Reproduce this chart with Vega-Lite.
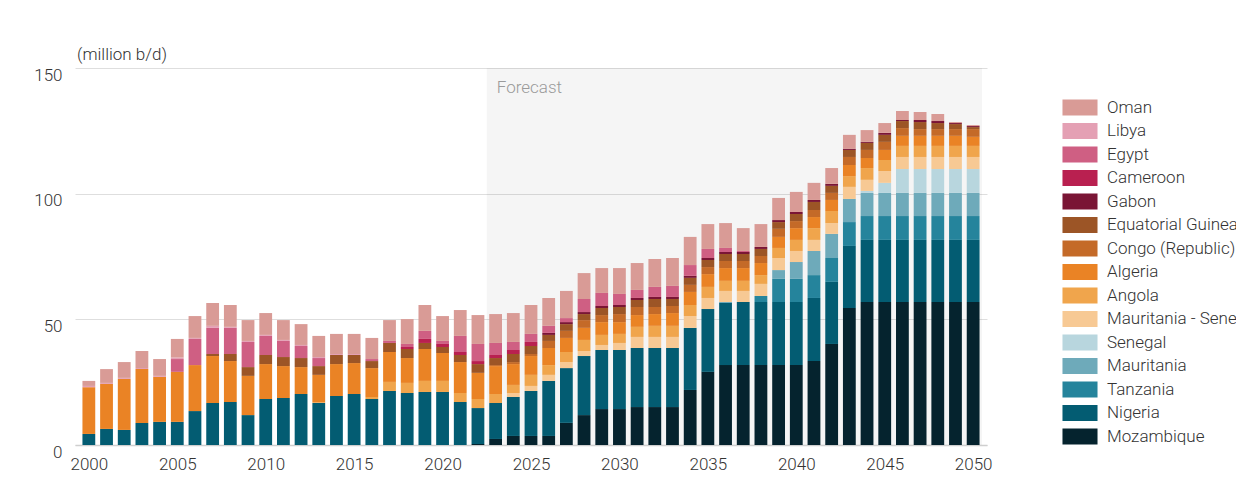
{
"$schema": "https://vega.github.io/schema/vega-lite/v6.json",
"width": 912, "height": 377,
"autosize": {"type": "none"},
"padding": {"left": 75, "top": 68, "right": 249, "bottom": 49},
"background": "white",
"config": {"font": "Roboto", "view": {"stroke": null},
  "axisX": {"grid": false, "domain": true, "domainColor": "#cfcfcf", "domainWidth": 1.5, "ticks": false, "labelFontSize": 17, "labelFontWeight": 300, "labelColor": "#333", "labelPadding": 11, "title": null},
  "axisY": {"grid": true, "gridColor": "#dedede", "domain": false, "ticks": false, "labelFontSize": 17, "labelFontWeight": 300, "labelColor": "#333", "labelPadding": 13, "labelOffset": 7, "title": null}
},
"title": {"text": "(million b/d)", "anchor": "start", "frame": "group", "fontSize": 17, "fontWeight": 300, "color": "#333", "offset": 2, "dx": 2},
"datasets": {
"order": [
{"country":"Oman","rank":1},{"country":"Libya","rank":2},{"country":"Egypt","rank":3},{"country":"Cameroon","rank":4},{"country":"Gabon","rank":5},{"country":"Equatorial Guinea","rank":6},{"country":"Congo (Republic)","rank":7},{"country":"Algeria","rank":8},{"country":"Angola","rank":9},{"country":"Mauritania - Senegal","rank":10},{"country":"Senegal","rank":11},{"country":"Mauritania","rank":12},{"country":"Tanzania","rank":13},{"country":"Nigeria","rank":14},{"country":"Mozambique","rank":15}
],
"supply": [
{"year":2000,"country":"Nigeria","value":4.4},{"year":2000,"country":"Algeria","value":18.6},{"year":2000,"country":"Libya","value":0.5},{"year":2000,"country":"Oman","value":2.0},
{"year":2001,"country":"Nigeria","value":6.4},{"year":2001,"country":"Algeria","value":17.9},{"year":2001,"country":"Libya","value":0.4},{"year":2001,"country":"Oman","value":5.5},
{"year":2002,"country":"Nigeria","value":6.0},{"year":2002,"country":"Algeria","value":20.3},{"year":2002,"country":"Libya","value":0.4},{"year":2002,"country":"Oman","value":6.3},
{"year":2003,"country":"Nigeria","value":8.8},{"year":2003,"country":"Algeria","value":21.4},{"year":2003,"country":"Libya","value":0.4},{"year":2003,"country":"Oman","value":6.8},
{"year":2004,"country":"Nigeria","value":9.2},{"year":2004,"country":"Algeria","value":17.9},{"year":2004,"country":"Libya","value":0.4},{"year":2004,"country":"Oman","value":6.7},
{"year":2005,"country":"Nigeria","value":9.2},{"year":2005,"country":"Algeria","value":19.9},{"year":2005,"country":"Egypt","value":5.1},{"year":2005,"country":"Libya","value":0.6},{"year":2005,"country":"Oman","value":7.4},
{"year":2006,"country":"Nigeria","value":13.5},{"year":2006,"country":"Algeria","value":18.3},{"year":2006,"country":"Egypt","value":10.4},{"year":2006,"country":"Libya","value":0.4},{"year":2006,"country":"Oman","value":8.7},
{"year":2007,"country":"Nigeria","value":16.7},{"year":2007,"country":"Algeria","value":18.7},{"year":2007,"country":"Equatorial Guinea","value":0.8},{"year":2007,"country":"Egypt","value":10.4},{"year":2007,"country":"Libya","value":0.8},{"year":2007,"country":"Oman","value":9.1},
{"year":2008,"country":"Nigeria","value":17.1},{"year":2008,"country":"Algeria","value":16.3},{"year":2008,"country":"Equatorial Guinea","value":2.8},{"year":2008,"country":"Egypt","value":10.4},{"year":2008,"country":"Libya","value":0.4},{"year":2008,"country":"Oman","value":8.7},
{"year":2009,"country":"Nigeria","value":11.9},{"year":2009,"country":"Algeria","value":15.6},{"year":2009,"country":"Equatorial Guinea","value":3.5},{"year":2009,"country":"Egypt","value":10.0},{"year":2009,"country":"Libya","value":0.4},{"year":2009,"country":"Oman","value":8.3},
{"year":2010,"country":"Nigeria","value":18.3},{"year":2010,"country":"Algeria","value":13.9},{"year":2010,"country":"Equatorial Guinea","value":3.6},{"year":2010,"country":"Egypt","value":7.6},{"year":2010,"country":"Libya","value":0.4},{"year":2010,"country":"Oman","value":8.7},
{"year":2011,"country":"Nigeria","value":18.7},{"year":2011,"country":"Algeria","value":12.7},{"year":2011,"country":"Equatorial Guinea","value":3.6},{"year":2011,"country":"Egypt","value":6.4},{"year":2011,"country":"Libya","value":0.4},{"year":2011,"country":"Oman","value":7.9},
{"year":2012,"country":"Nigeria","value":20.3},{"year":2012,"country":"Algeria","value":10.7},{"year":2012,"country":"Equatorial Guinea","value":3.6},{"year":2012,"country":"Egypt","value":4.8},{"year":2012,"country":"Libya","value":0.4},{"year":2012,"country":"Oman","value":8.3},
{"year":2013,"country":"Nigeria","value":16.7},{"year":2013,"country":"Angola","value":0.3},{"year":2013,"country":"Algeria","value":10.9},{"year":2013,"country":"Equatorial Guinea","value":3.5},{"year":2013,"country":"Egypt","value":3.2},{"year":2013,"country":"Libya","value":0.4},{"year":2013,"country":"Oman","value":8.4},
{"year":2014,"country":"Nigeria","value":19.5},{"year":2014,"country":"Algeria","value":12.7},{"year":2014,"country":"Equatorial Guinea","value":3.6},{"year":2014,"country":"Libya","value":0.4},{"year":2014,"country":"Oman","value":8.0},
{"year":2015,"country":"Nigeria","value":20.3},{"year":2015,"country":"Algeria","value":12.3},{"year":2015,"country":"Equatorial Guinea","value":3.2},{"year":2015,"country":"Libya","value":0.4},{"year":2015,"country":"Oman","value":8.0},
{"year":2016,"country":"Nigeria","value":18.3},{"year":2016,"country":"Angola","value":0.8},{"year":2016,"country":"Algeria","value":11.5},{"year":2016,"country":"Equatorial Guinea","value":2.8},{"year":2016,"country":"Egypt","value":0.8},{"year":2016,"country":"Oman","value":8.4},
{"year":2017,"country":"Nigeria","value":21.5},{"year":2017,"country":"Angola","value":3.6},{"year":2017,"country":"Algeria","value":11.9},{"year":2017,"country":"Equatorial Guinea","value":3.6},{"year":2017,"country":"Egypt","value":0.8},{"year":2017,"country":"Oman","value":8.3},
{"year":2018,"country":"Nigeria","value":20.7},{"year":2018,"country":"Angola","value":4.0},{"year":2018,"country":"Algeria","value":9.9},{"year":2018,"country":"Equatorial Guinea","value":3.6},{"year":2018,"country":"Cameroon","value":0.8},{"year":2018,"country":"Egypt","value":1.2},{"year":2018,"country":"Oman","value":9.9},
{"year":2019,"country":"Nigeria","value":21.1},{"year":2019,"country":"Angola","value":4.4},{"year":2019,"country":"Algeria","value":12.7},{"year":2019,"country":"Equatorial Guinea","value":2.4},{"year":2019,"country":"Cameroon","value":1.6},{"year":2019,"country":"Egypt","value":3.2},{"year":2019,"country":"Oman","value":10.3},
{"year":2020,"country":"Nigeria","value":21.1},{"year":2020,"country":"Angola","value":4.4},{"year":2020,"country":"Algeria","value":11.1},{"year":2020,"country":"Equatorial Guinea","value":2.4},{"year":2020,"country":"Cameroon","value":1.2},{"year":2020,"country":"Egypt","value":1.2},{"year":2020,"country":"Oman","value":9.9},
{"year":2021,"country":"Nigeria","value":17.1},{"year":2021,"country":"Angola","value":3.6},{"year":2021,"country":"Algeria","value":12.3},{"year":2021,"country":"Equatorial Guinea","value":2.8},{"year":2021,"country":"Cameroon","value":1.2},{"year":2021,"country":"Egypt","value":6.4},{"year":2021,"country":"Oman","value":10.3},
{"year":2022,"country":"Mozambique","value":0.4},{"year":2022,"country":"Nigeria","value":14.3},{"year":2022,"country":"Angola","value":3.6},{"year":2022,"country":"Algeria","value":10.4},{"year":2022,"country":"Equatorial Guinea","value":3.5},{"year":2022,"country":"Cameroon","value":1.2},{"year":2022,"country":"Egypt","value":6.8},{"year":2022,"country":"Oman","value":11.5},
{"year":2023,"country":"Mozambique","value":2.4},{"year":2023,"country":"Nigeria","value":14.3},{"year":2023,"country":"Angola","value":3.6},{"year":2023,"country":"Algeria","value":11.1},{"year":2023,"country":"Congo (Republic)","value":0.4},{"year":2023,"country":"Equatorial Guinea","value":2.8},{"year":2023,"country":"Cameroon","value":1.2},{"year":2023,"country":"Egypt","value":4.8},{"year":2023,"country":"Oman","value":11.5},
{"year":2024,"country":"Mozambique","value":3.6},{"year":2024,"country":"Nigeria","value":15.5},{"year":2024,"country":"Mauritania - Senegal","value":1.6},{"year":2024,"country":"Angola","value":3.2},{"year":2024,"country":"Algeria","value":8.3},{"year":2024,"country":"Congo (Republic)","value":0.8},{"year":2024,"country":"Equatorial Guinea","value":3.2},{"year":2024,"country":"Cameroon","value":1.6},{"year":2024,"country":"Egypt","value":3.2},{"year":2024,"country":"Oman","value":11.5},
{"year":2025,"country":"Mozambique","value":3.6},{"year":2025,"country":"Nigeria","value":17.9},{"year":2025,"country":"Mauritania - Senegal","value":2.0},{"year":2025,"country":"Angola","value":4.4},{"year":2025,"country":"Algeria","value":7.5},{"year":2025,"country":"Congo (Republic)","value":0.8},{"year":2025,"country":"Equatorial Guinea","value":3.2},{"year":2025,"country":"Cameroon","value":1.6},{"year":2025,"country":"Egypt","value":3.2},{"year":2025,"country":"Oman","value":11.5},
{"year":2026,"country":"Mozambique","value":3.6},{"year":2026,"country":"Nigeria","value":21.9},{"year":2026,"country":"Mauritania - Senegal","value":2.4},{"year":2026,"country":"Angola","value":3.9},{"year":2026,"country":"Algeria","value":6.8},{"year":2026,"country":"Congo (Republic)","value":2.8},{"year":2026,"country":"Equatorial Guinea","value":2.4},{"year":2026,"country":"Gabon","value":0.8},{"year":2026,"country":"Egypt","value":2.8},{"year":2026,"country":"Oman","value":11.1},
{"year":2027,"country":"Mozambique","value":8.8},{"year":2027,"country":"Nigeria","value":21.8},{"year":2027,"country":"Mauritania - Senegal","value":2.4},{"year":2027,"country":"Angola","value":4.0},{"year":2027,"country":"Algeria","value":5.6},{"year":2027,"country":"Congo (Republic)","value":2.8},{"year":2027,"country":"Equatorial Guinea","value":2.7},{"year":2027,"country":"Gabon","value":0.8},{"year":2027,"country":"Egypt","value":1.6},{"year":2027,"country":"Oman","value":10.8},
{"year":2028,"country":"Mozambique","value":11.9},{"year":2028,"country":"Nigeria","value":23.5},{"year":2028,"country":"Mauritania - Senegal","value":2.0},{"year":2028,"country":"Angola","value":4.4},{"year":2028,"country":"Algeria","value":4.8},{"year":2028,"country":"Congo (Republic)","value":3.1},{"year":2028,"country":"Equatorial Guinea","value":2.4},{"year":2028,"country":"Gabon","value":0.8},{"year":2028,"country":"Egypt","value":5.2},{"year":2028,"country":"Oman","value":10.3},
{"year":2029,"country":"Mozambique","value":14.3},{"year":2029,"country":"Nigeria","value":23.5},{"year":2029,"country":"Mauritania - Senegal","value":2.0},{"year":2029,"country":"Angola","value":4.0},{"year":2029,"country":"Algeria","value":5.1},{"year":2029,"country":"Congo (Republic)","value":2.8},{"year":2029,"country":"Equatorial Guinea","value":2.8},{"year":2029,"country":"Gabon","value":0.8},{"year":2029,"country":"Egypt","value":5.2},{"year":2029,"country":"Oman","value":9.9},
{"year":2030,"country":"Mozambique","value":14.3},{"year":2030,"country":"Nigeria","value":23.5},{"year":2030,"country":"Mauritania - Senegal","value":2.8},{"year":2030,"country":"Angola","value":3.6},{"year":2030,"country":"Algeria","value":4.7},{"year":2030,"country":"Congo (Republic)","value":3.2},{"year":2030,"country":"Equatorial Guinea","value":2.8},{"year":2030,"country":"Gabon","value":0.8},{"year":2030,"country":"Egypt","value":4.4},{"year":2030,"country":"Oman","value":10.3},
{"year":2031,"country":"Mozambique","value":15.1},{"year":2031,"country":"Nigeria","value":23.5},{"year":2031,"country":"Mauritania - Senegal","value":4.4},{"year":2031,"country":"Angola","value":4.0},{"year":2031,"country":"Algeria","value":4.7},{"year":2031,"country":"Congo (Republic)","value":3.2},{"year":2031,"country":"Equatorial Guinea","value":2.8},{"year":2031,"country":"Gabon","value":0.8},{"year":2031,"country":"Egypt","value":3.2},{"year":2031,"country":"Oman","value":10.7},
{"year":2032,"country":"Mozambique","value":15.1},{"year":2032,"country":"Nigeria","value":23.5},{"year":2032,"country":"Mauritania - Senegal","value":4.4},{"year":2032,"country":"Angola","value":4.4},{"year":2032,"country":"Algeria","value":4.7},{"year":2032,"country":"Congo (Republic)","value":2.8},{"year":2032,"country":"Equatorial Guinea","value":3.2},{"year":2032,"country":"Gabon","value":0.8},{"year":2032,"country":"Egypt","value":4.0},{"year":2032,"country":"Oman","value":11.1},
{"year":2033,"country":"Mozambique","value":15.1},{"year":2033,"country":"Nigeria","value":23.5},{"year":2033,"country":"Mauritania - Senegal","value":4.4},{"year":2033,"country":"Angola","value":4.4},{"year":2033,"country":"Algeria","value":5.1},{"year":2033,"country":"Congo (Republic)","value":2.8},{"year":2033,"country":"Equatorial Guinea","value":2.8},{"year":2033,"country":"Gabon","value":0.8},{"year":2033,"country":"Egypt","value":4.4},{"year":2033,"country":"Oman","value":11.1},
{"year":2034,"country":"Mozambique","value":21.9},{"year":2034,"country":"Nigeria","value":24.7},{"year":2034,"country":"Mauritania - Senegal","value":4.7},{"year":2034,"country":"Angola","value":4.4},{"year":2034,"country":"Algeria","value":5.2},{"year":2034,"country":"Congo (Republic)","value":2.8},{"year":2034,"country":"Equatorial Guinea","value":2.8},{"year":2034,"country":"Gabon","value":0.8},{"year":2034,"country":"Egypt","value":4.3},{"year":2034,"country":"Oman","value":11.2},
{"year":2035,"country":"Mozambique","value":29.1},{"year":2035,"country":"Nigeria","value":25.0},{"year":2035,"country":"Mauritania - Senegal","value":4.4},{"year":2035,"country":"Angola","value":4.4},{"year":2035,"country":"Algeria","value":5.1},{"year":2035,"country":"Congo (Republic)","value":2.8},{"year":2035,"country":"Equatorial Guinea","value":2.8},{"year":2035,"country":"Gabon","value":0.8},{"year":2035,"country":"Egypt","value":3.6},{"year":2035,"country":"Oman","value":9.9},
{"year":2036,"country":"Mozambique","value":31.8},{"year":2036,"country":"Nigeria","value":24.7},{"year":2036,"country":"Mauritania","value":0.4},{"year":2036,"country":"Mauritania - Senegal","value":4.4},{"year":2036,"country":"Angola","value":4.0},{"year":2036,"country":"Algeria","value":5.1},{"year":2036,"country":"Congo (Republic)","value":2.8},{"year":2036,"country":"Equatorial Guinea","value":2.8},{"year":2036,"country":"Gabon","value":0.8},{"year":2036,"country":"Egypt","value":1.6},{"year":2036,"country":"Oman","value":9.9},
{"year":2037,"country":"Mozambique","value":31.8},{"year":2037,"country":"Nigeria","value":25.1},{"year":2037,"country":"Mauritania - Senegal","value":4.4},{"year":2037,"country":"Angola","value":4.0},{"year":2037,"country":"Algeria","value":5.1},{"year":2037,"country":"Congo (Republic)","value":2.8},{"year":2037,"country":"Equatorial Guinea","value":2.8},{"year":2037,"country":"Gabon","value":0.8},{"year":2037,"country":"Egypt","value":0.4},{"year":2037,"country":"Oman","value":9.1},
{"year":2038,"country":"Mozambique","value":31.8},{"year":2038,"country":"Nigeria","value":25.1},{"year":2038,"country":"Tanzania","value":2.4},{"year":2038,"country":"Mauritania - Senegal","value":4.8},{"year":2038,"country":"Angola","value":3.5},{"year":2038,"country":"Algeria","value":4.8},{"year":2038,"country":"Congo (Republic)","value":2.8},{"year":2038,"country":"Equatorial Guinea","value":2.8},{"year":2038,"country":"Gabon","value":0.8},{"year":2038,"country":"Oman","value":9.1},
{"year":2039,"country":"Mozambique","value":31.8},{"year":2039,"country":"Nigeria","value":25.1},{"year":2039,"country":"Tanzania","value":9.2},{"year":2039,"country":"Mauritania","value":3.5},{"year":2039,"country":"Mauritania - Senegal","value":4.8},{"year":2039,"country":"Angola","value":4.0},{"year":2039,"country":"Algeria","value":4.4},{"year":2039,"country":"Congo (Republic)","value":3.2},{"year":2039,"country":"Equatorial Guinea","value":2.7},{"year":2039,"country":"Gabon","value":0.8},{"year":2039,"country":"Oman","value":8.8},
{"year":2040,"country":"Mozambique","value":31.8},{"year":2040,"country":"Nigeria","value":25.1},{"year":2040,"country":"Tanzania","value":9.2},{"year":2040,"country":"Mauritania","value":6.7},{"year":2040,"country":"Mauritania - Senegal","value":4.4},{"year":2040,"country":"Angola","value":4.4},{"year":2040,"country":"Algeria","value":4.7},{"year":2040,"country":"Congo (Republic)","value":2.8},{"year":2040,"country":"Equatorial Guinea","value":2.8},{"year":2040,"country":"Gabon","value":0.8},{"year":2040,"country":"Oman","value":8.0},
{"year":2041,"country":"Mozambique","value":33.4},{"year":2041,"country":"Nigeria","value":25.1},{"year":2041,"country":"Tanzania","value":9.1},{"year":2041,"country":"Mauritania","value":9.6},{"year":2041,"country":"Mauritania - Senegal","value":4.4},{"year":2041,"country":"Angola","value":4.7},{"year":2041,"country":"Algeria","value":4.4},{"year":2041,"country":"Congo (Republic)","value":2.8},{"year":2041,"country":"Equatorial Guinea","value":3.2},{"year":2041,"country":"Gabon","value":0.8},{"year":2041,"country":"Oman","value":6.8},
{"year":2042,"country":"Mozambique","value":40.2},{"year":2042,"country":"Nigeria","value":24.7},{"year":2042,"country":"Tanzania","value":9.5},{"year":2042,"country":"Mauritania","value":9.6},{"year":2042,"country":"Mauritania - Senegal","value":4.3},{"year":2042,"country":"Angola","value":4.8},{"year":2042,"country":"Algeria","value":4.4},{"year":2042,"country":"Congo (Republic)","value":2.8},{"year":2042,"country":"Equatorial Guinea","value":2.8},{"year":2042,"country":"Gabon","value":0.8},{"year":2042,"country":"Oman","value":6.3},
{"year":2043,"country":"Mozambique","value":54.5},{"year":2043,"country":"Nigeria","value":24.7},{"year":2043,"country":"Tanzania","value":9.5},{"year":2043,"country":"Mauritania","value":9.2},{"year":2043,"country":"Mauritania - Senegal","value":4.8},{"year":2043,"country":"Angola","value":4.3},{"year":2043,"country":"Algeria","value":4.4},{"year":2043,"country":"Congo (Republic)","value":3.2},{"year":2043,"country":"Equatorial Guinea","value":2.8},{"year":2043,"country":"Gabon","value":0.4},{"year":2043,"country":"Oman","value":5.6},
{"year":2044,"country":"Mozambique","value":56.9},{"year":2044,"country":"Nigeria","value":24.7},{"year":2044,"country":"Tanzania","value":9.5},{"year":2044,"country":"Mauritania","value":9.2},{"year":2044,"country":"Senegal","value":0.8},{"year":2044,"country":"Mauritania - Senegal","value":4.4},{"year":2044,"country":"Angola","value":4.7},{"year":2044,"country":"Algeria","value":4.0},{"year":2044,"country":"Congo (Republic)","value":3.2},{"year":2044,"country":"Equatorial Guinea","value":2.8},{"year":2044,"country":"Gabon","value":0.4},{"year":2044,"country":"Oman","value":4.7},
{"year":2045,"country":"Mozambique","value":56.9},{"year":2045,"country":"Nigeria","value":24.7},{"year":2045,"country":"Tanzania","value":9.5},{"year":2045,"country":"Mauritania","value":9.2},{"year":2045,"country":"Senegal","value":4.0},{"year":2045,"country":"Mauritania - Senegal","value":4.7},{"year":2045,"country":"Angola","value":4.4},{"year":2045,"country":"Algeria","value":4.0},{"year":2045,"country":"Congo (Republic)","value":3.2},{"year":2045,"country":"Equatorial Guinea","value":2.8},{"year":2045,"country":"Gabon","value":0.8},{"year":2045,"country":"Oman","value":3.9},
{"year":2046,"country":"Mozambique","value":56.9},{"year":2046,"country":"Nigeria","value":24.7},{"year":2046,"country":"Tanzania","value":9.5},{"year":2046,"country":"Mauritania","value":9.2},{"year":2046,"country":"Senegal","value":9.5},{"year":2046,"country":"Mauritania - Senegal","value":4.8},{"year":2046,"country":"Angola","value":4.4},{"year":2046,"country":"Algeria","value":4.0},{"year":2046,"country":"Congo (Republic)","value":3.1},{"year":2046,"country":"Equatorial Guinea","value":2.8},{"year":2046,"country":"Gabon","value":0.4},{"year":2046,"country":"Oman","value":3.6},
{"year":2047,"country":"Mozambique","value":56.9},{"year":2047,"country":"Nigeria","value":24.7},{"year":2047,"country":"Tanzania","value":9.5},{"year":2047,"country":"Mauritania","value":9.2},{"year":2047,"country":"Senegal","value":9.5},{"year":2047,"country":"Mauritania - Senegal","value":4.8},{"year":2047,"country":"Angola","value":4.4},{"year":2047,"country":"Algeria","value":4.0},{"year":2047,"country":"Congo (Republic)","value":2.7},{"year":2047,"country":"Equatorial Guinea","value":2.8},{"year":2047,"country":"Gabon","value":0.8},{"year":2047,"country":"Oman","value":3.2},
{"year":2048,"country":"Mozambique","value":56.9},{"year":2048,"country":"Nigeria","value":24.7},{"year":2048,"country":"Tanzania","value":9.5},{"year":2048,"country":"Mauritania","value":9.2},{"year":2048,"country":"Senegal","value":9.5},{"year":2048,"country":"Mauritania - Senegal","value":4.8},{"year":2048,"country":"Angola","value":4.4},{"year":2048,"country":"Algeria","value":4.0},{"year":2048,"country":"Congo (Republic)","value":2.7},{"year":2048,"country":"Equatorial Guinea","value":2.4},{"year":2048,"country":"Gabon","value":0.8},{"year":2048,"country":"Oman","value":2.8},
{"year":2049,"country":"Mozambique","value":56.9},{"year":2049,"country":"Nigeria","value":24.7},{"year":2049,"country":"Tanzania","value":9.5},{"year":2049,"country":"Mauritania","value":9.2},{"year":2049,"country":"Senegal","value":9.5},{"year":2049,"country":"Mauritania - Senegal","value":4.8},{"year":2049,"country":"Angola","value":4.4},{"year":2049,"country":"Algeria","value":4.0},{"year":2049,"country":"Congo (Republic)","value":2.7},{"year":2049,"country":"Equatorial Guinea","value":2.0},{"year":2049,"country":"Gabon","value":0.4},{"year":2049,"country":"Oman","value":0.4},
{"year":2050,"country":"Mozambique","value":56.9},{"year":2050,"country":"Nigeria","value":24.7},{"year":2050,"country":"Tanzania","value":9.5},{"year":2050,"country":"Mauritania","value":9.2},{"year":2050,"country":"Senegal","value":9.5},{"year":2050,"country":"Mauritania - Senegal","value":4.8},{"year":2050,"country":"Angola","value":4.4},{"year":2050,"country":"Algeria","value":3.6},{"year":2050,"country":"Congo (Republic)","value":3.1},{"year":2050,"country":"Equatorial Guinea","value":0.8},{"year":2050,"country":"Gabon","value":0.4},{"year":2050,"country":"Oman","value":0.4}
],
"forecast": [{"start": 2022.5, "end": 2050.5, "labelYear": 2022.5, "labelValue": 142, "label": "Forecast"}]
},
"layer": [
{"data": {"name": "forecast"},
 "mark": {"type": "rect", "fill": "#000000", "opacity": 0.04},
 "encoding": {
  "x": {"field": "start", "type": "quantitative", "scale": {"domain": [1999.5, 2050.5], "nice": false, "zero": false}},
  "x2": {"field": "end"},
  "y": {"datum": 0, "type": "quantitative"},
  "y2": {"datum": 150}
 }},
{"data": {"name": "forecast"},
 "mark": {"type": "text", "align": "left", "baseline": "middle", "dx": 10, "fontSize": 17, "fontWeight": 300, "color": "#9a9a9a"},
 "encoding": {
  "x": {"field": "labelYear", "type": "quantitative"},
  "y": {"field": "labelValue", "type": "quantitative"},
  "text": {"field": "label"}
 }},
{"data": {"name": "supply"},
 "transform": [{"lookup": "country", "from": {"data": {"name": "order"}, "key": "country", "fields": ["rank"]}}],
 "mark": {"type": "bar", "width": 12.8},
 "encoding": {
  "x": {"field": "year", "type": "quantitative", "axis": {"values": [2000, 2005, 2010, 2015, 2020, 2025, 2030, 2035, 2040, 2045, 2050], "format": "d"}},
  "y": {"field": "value", "type": "quantitative", "aggregate": "sum", "stack": "zero", "scale": {"domain": [0, 150], "nice": false}, "axis": {"values": [0, 50, 100, 150]}},
  "order": {"field": "rank", "type": "quantitative", "aggregate": "min", "sort": "descending"},
  "color": {"field": "country", "type": "nominal",
   "sort": ["Oman", "Libya", "Egypt", "Cameroon", "Gabon", "Equatorial Guinea", "Congo (Republic)", "Algeria", "Angola", "Mauritania - Senegal", "Senegal", "Mauritania", "Tanzania", "Nigeria", "Mozambique"],
   "scale": {"domain": ["Oman", "Libya", "Egypt", "Cameroon", "Gabon", "Equatorial Guinea", "Congo (Republic)", "Algeria", "Angola", "Mauritania - Senegal", "Senegal", "Mauritania", "Tanzania", "Nigeria", "Mozambique"],
     "range": ["#d99b96", "#e4a0b4", "#cf5f83", "#b92050", "#7a1535", "#9c5526", "#c46a28", "#ea8325", "#f0a54c", "#f7c994", "#b8d6de", "#6eaaba", "#25849c", "#035c72", "#05232e"]},
   "legend": {"title": null, "orient": "none", "legendX": 996.5, "legendY": 31, "padding": 0,
     "symbolType": "M-2.19,-1H2.19V1H-2.19Z", "symbolSize": 256, "symbolStrokeWidth": 0, "symbolOpacity": 1,
     "labelFontSize": 17, "labelFontWeight": 300, "labelColor": "#333", "labelOffset": 18.5, "rowPadding": 5.5, "labelLimit": 400}
  }
 }}
]
}
